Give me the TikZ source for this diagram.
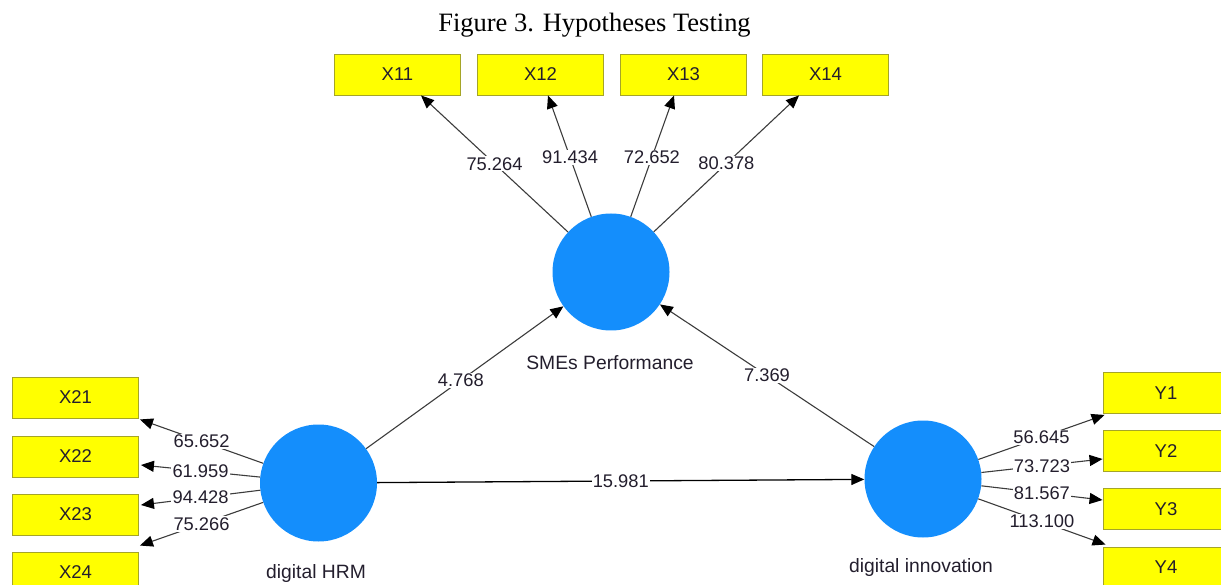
\documentclass[tikz,border=0pt]{standalone}
\usepackage{fontspec}
\setmainfont{Liberation Serif}
\newfontfamily\labfont{Liberation Sans}
\usetikzlibrary{arrows.meta,calc}
\definecolor{circblue}{RGB}{20,142,252}
\definecolor{boxyellow}{RGB}{255,255,0}
\definecolor{boxedge}{RGB}{165,165,40}
\definecolor{linegray}{RGB}{60,60,60}
\definecolor{txt}{RGB}{35,30,45}
\tikzset{
  ind/.style={draw=boxedge, line width=0.9pt, fill=boxyellow, minimum width=126pt, minimum height=41pt, inner sep=0pt, font=\labfont\fontsize{18.5}{20}\selectfont, text=txt},
  lv/.style={circle, fill=circblue, minimum size=117pt, inner sep=0pt},
  lvname/.style={font=\labfont\fontsize{19.3}{21}\selectfont, text=txt},
  load/.style={draw=linegray, line width=1.1pt, -{Triangle[length=13pt,width=11pt]}, arrows={[color=black]}},
  path/.style={draw=linegray, line width=1.1pt, -{Triangle[length=13pt,width=11pt]}, arrows={[color=black]}},
  val/.style={fill=white, inner sep=1.2pt, font=\labfont\fontsize{18.3}{20}\selectfont, text=txt}
}
\begin{document}
\begin{tikzpicture}[x=1pt,y=-1pt]
\useasboundingbox (0,0) rectangle (1221,585);
\clip (0,0) rectangle (1221,585);
% title
\node[font=\fontsize{26.5}{30}\selectfont] (title) at (594.5,25) {Figure 3. Hypotheses Testing};
% latent variables
\node[lv] (SME) at (611,272) {};
\node[lv] (HRM) at (318.5,483) {};
\node[lv] (INN) at (923,479) {};
\node[lvname] (SMEl) at (610,363) {SMEs Performance};
\node[lvname] (HRMl) at (316,574) {digital HRM};
\node[lvname] (INNl) at (921,568) {digital innovation};
% indicators
\node[ind] (X11) at (397.5,74.5) {X11};
\node[ind] (X12) at (540.5,74.5) {X12};
\node[ind] (X13) at (683.5,74.5) {X13};
\node[ind] (X14) at (825.5,74.5) {X14};
\node[ind] (X21) at (75.5,397.5) {X21};
\node[ind] (X22) at (75.5,456.5) {X22};
\node[ind] (X23) at (75.5,514.5) {X23};
\node[ind] (X24) at (75.5,572.5) {X24};
\node[ind] (Y1) at (1166,393) {Y1};
\node[ind] (Y2) at (1166,451) {Y2};
\node[ind] (Y3) at (1166,509) {Y3};
\node[ind] (Y4) at (1166,567.5) {Y4};
% outer loadings
\draw[load] (SME) -- ([xshift=23.5pt]X11.south) node[val,pos=0.5] {75.264};
\draw[load] (SME) -- ([xshift=7.5pt]X12.south) node[val,pos=0.49] {91.434};
\draw[load] (SME) -- ([xshift=-9.5pt]X13.south) node[val,pos=0.49] {72.652};
\draw[load] (SME) -- ([xshift=-26.5pt]X14.south) node[val,pos=0.5] {80.378};
\draw[load] (HRM) -- ([xshift=1pt,yshift=-1pt]X21.south east) node[val,pos=0.5] {65.652};
\draw[load] (HRM) -- ([xshift=2pt,yshift=-8.5pt]X22.east) node[val,pos=0.5] {61.959};
\draw[load] (HRM) -- ([xshift=2pt,yshift=9.5pt]X23.east) node[val,pos=0.5] {94.428};
\draw[load] (HRM) -- ([xshift=1pt,yshift=6pt]X24.north east) node[val,pos=0.5] {75.266};
\draw[load] (INN) -- ([xshift=2pt,yshift=-1pt]Y1.south west) node[val,pos=0.5] {56.645};
\draw[load] (INN) -- ([yshift=-8pt]Y2.west) node[val,pos=0.5] {73.723};
\draw[load] (INN) -- ([yshift=9pt]Y3.west) node[val,pos=0.5] {81.567};
\draw[load] (INN) -- ([xshift=3pt,yshift=2pt]Y4.north west) node[val,pos=0.5] {113.100};
% structural paths
\draw[path] (HRM) -- (SME) node[val,pos=0.48] {4.768};
\draw[path] (INN) -- (SME) node[val,pos=0.5] {7.369};
\draw[path, draw=black, line width=1.3pt] (HRM) -- (INN) node[val,pos=0.5] {15.981};
\end{tikzpicture}
\end{document}
